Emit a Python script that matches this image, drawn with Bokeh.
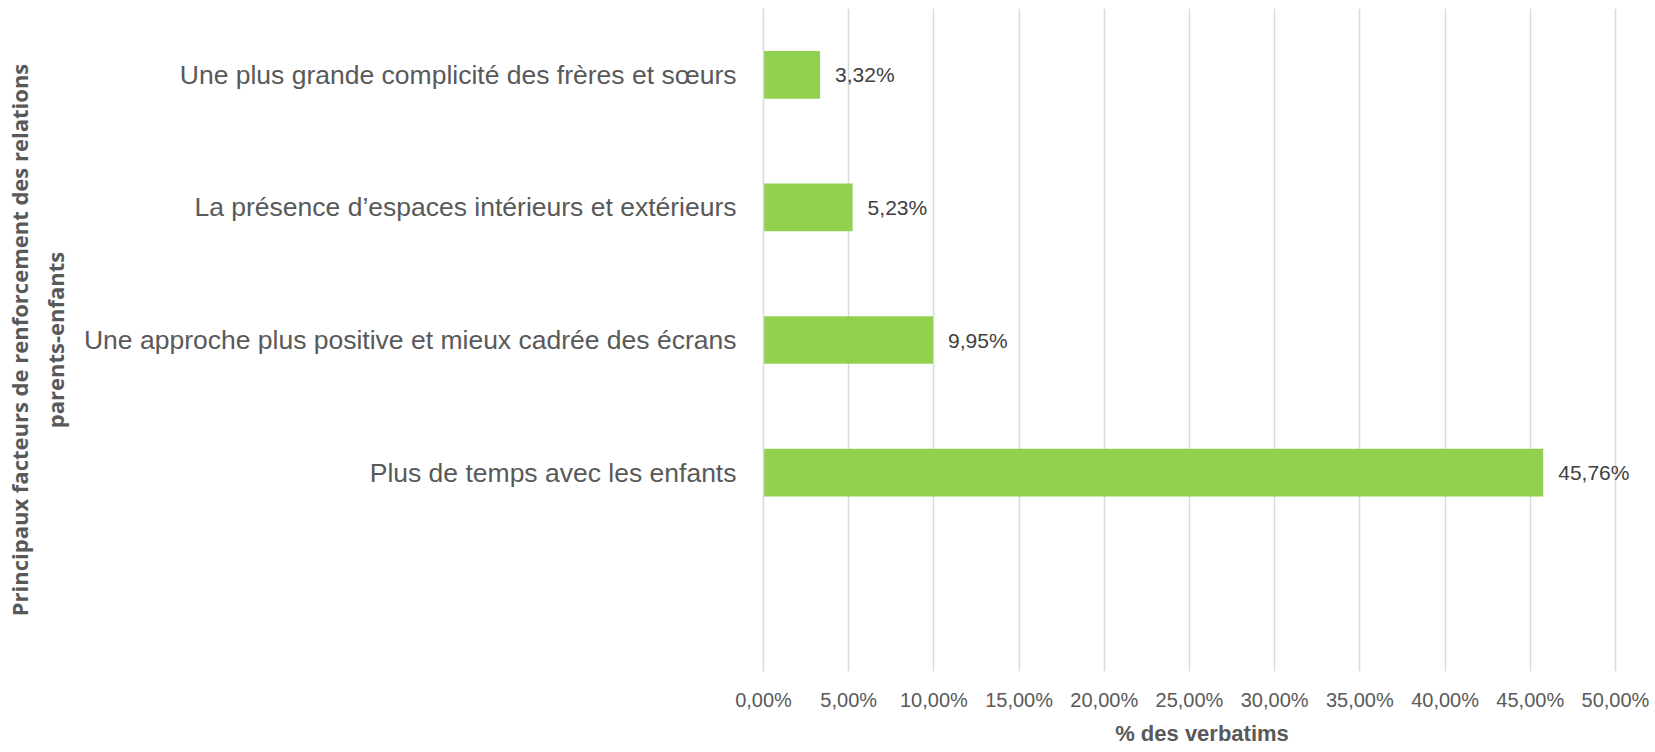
from bokeh.plotting import figure
from bokeh.models import FactorRange, Range1d, FixedTicker, CustomJSTickFormatter, ColumnDataSource, Title
from bokeh.core.properties import value
from bokeh.embed import file_html
from bokeh.resources import INLINE

# ---- data ----
categories = [
    "Une plus grande complicité des frères et sœurs",
    "La présence d’espaces intérieurs et extérieurs",
    "Une approche plus positive et mieux cadrée des écrans",
    "Plus de temps avec les enfants",
]
values = [3.32, 5.23, 9.95, 45.76]
x_ticks = [0, 5, 10, 15, 20, 25, 30, 35, 40, 45, 50]
x_title = "% des verbatims"
y_title = "Principaux facteurs de renforcement des relations\nparents-enfants"
empty_slot = " "

labels = [f"{v:.2f}".replace(".", ",") + "%" for v in values]
src = ColumnDataSource(dict(cat=categories, val=values, lab=labels))

factors = [empty_slot] + categories[::-1]

LABEL_FONT = "Liberation Sans"

p = figure(
    width=1655, height=752,
    y_range=FactorRange(factors=factors, range_padding=0),
    x_range=Range1d(0, 51.47),
    output_backend="svg", toolbar_location=None,
    min_border_left=763, min_border_right=15, min_border_top=8, min_border_bottom=81,
)
p.outline_line_color = None
p.background_fill_color = "white"

p.hbar(y="cat", right="val", left=0, height=0.36, source=src,
       fill_color="#92d050", line_color=None)

p.text(x="val", y="cat", text="lab", source=src, x_offset=15,
       text_baseline="middle", text_align="left",
       text_font=value(LABEL_FONT), text_font_size="21px", text_color="#404040")

# x axis
p.xaxis.ticker = FixedTicker(ticks=x_ticks)
p.xaxis.formatter = CustomJSTickFormatter(code="return tick.toFixed(2).replace('.', ',') + '%';")
p.xaxis.axis_line_color = None
p.xaxis.major_tick_line_color = None
p.xaxis.minor_tick_line_color = None
p.xaxis.major_tick_out = 0
p.xaxis.major_tick_in = 0
p.xaxis.minor_tick_out = 0
p.xaxis.major_label_text_font = LABEL_FONT
p.xaxis.major_label_text_font_size = "20px"
p.xaxis.major_label_text_color = "#595959"
p.xaxis.major_label_standoff = 17

# x title below the axis
p.add_layout(Title(text=x_title, align="center", standoff=10,
                   text_font=LABEL_FONT, text_font_style="bold", text_font_size="22px",
                   text_color="#595959"), "below")

# y axis
p.yaxis.axis_line_color = "#d9d9d9"
p.yaxis.axis_line_width = 1.5
p.yaxis.major_tick_line_color = None
p.yaxis.minor_tick_line_color = None
p.yaxis.major_tick_out = 0
p.yaxis.major_tick_in = 0
p.yaxis.minor_tick_out = 0
p.yaxis.major_label_text_font = LABEL_FONT
p.yaxis.major_label_text_font_size = "26.5px"
p.yaxis.major_label_text_color = "#595959"
p.yaxis.major_label_standoff = 27
p.yaxis.axis_label = y_title
p.yaxis.axis_label_text_font = "Open Sans"
p.yaxis.axis_label_text_font_style = "bold"
p.yaxis.axis_label_text_font_size = "22px"
p.yaxis.axis_label_text_color = "#595959"
p.yaxis.axis_label_standoff = 11

p.xgrid.grid_line_color = "#d9d9d9"
p.xgrid.grid_line_width = 1.5
p.ygrid.grid_line_color = None

open("out.html", "w").write(file_html(p, INLINE))
